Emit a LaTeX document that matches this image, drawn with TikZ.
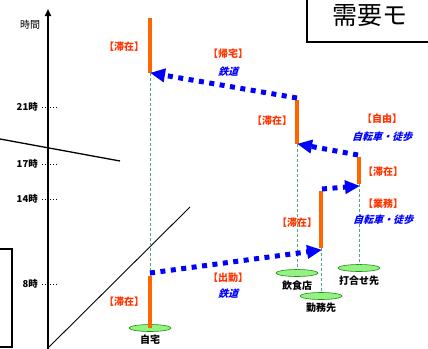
\documentclass[tikz,border=0pt]{standalone}
\usepackage{fontspec}
\setmainfont{Noto Sans CJK JP}
\newfontfamily\jpbold{Noto Sans CJK JP Black}
\newfontfamily\jpbsl[FakeSlant=0.3]{Noto Sans CJK JP Black}
\usetikzlibrary{arrows.meta,shapes.geometric}
\definecolor{stayc}{RGB}{255,102,0}
\definecolor{labc}{RGB}{255,51,0}
\definecolor{movec}{RGB}{0,0,255}
\definecolor{guidec}{RGB}{80,165,125}
\definecolor{ellf}{RGB}{150,240,130}
\definecolor{elld}{RGB}{20,150,20}
\tikzset{
  staybar/.style={stayc, line width=4pt},
  guide/.style={guidec, dash pattern=on 3pt off 2pt, line width=0.8pt},
  move/.style={movec, line width=5pt, dash pattern=on 5pt off 5.5pt, -{Triangle[length=15pt,width=13pt]}, shorten >=-1pt},
  place/.style={ellipse, draw=elld, fill=ellf, line width=0.6pt, minimum width=42pt, minimum height=7pt, inner sep=0pt},
  placelab/.style={font=\fontsize{10}{12}\selectfont\jpbold, black},
  actlab/.style={font=\fontsize{10}{12}\selectfont\jpbold, labc, inner sep=0pt},
  modelab/.style={font=\fontsize{10}{12}\selectfont\jpbsl, movec, inner sep=0pt},
  ticklab/.style={font=\fontsize{9.5}{11}\selectfont\jpbold, anchor=east, inner sep=0pt},
  tick/.style={dotted, line width=0.8pt},
}
\begin{document}
\begin{tikzpicture}[x=1pt,y=-1pt]
\useasboundingbox (0,0) rectangle (428,348);
% background lines
\draw[line width=1.3pt] (0,139) -- (120,161);
\draw[line width=0.9pt] (48,348) -- (190,207);
\draw[line width=1.2pt] (-5,249) -- (12,249) -- (12,347) -- (-5,347);
\draw[line width=1.2pt] (307,-5) -- (307,42) -- (433,42);
\node[anchor=west, font=\fontsize{25}{28}\selectfont, inner sep=0pt] (title) at (332,16) {需要モ};
% time axis
\coordinate (axb) at (48,350);
\coordinate (axt) at (48,9);
\draw[line width=2pt, -{Triangle[length=7pt,width=6pt]}] (axb) -- (axt);
\node[font=\fontsize{10}{12}\selectfont, inner sep=0pt] (timelab) at (30,25) {時間};
\node[ticklab] (t21) at (38,107) {21時};
\node[ticklab] (t17) at (38,164) {17時};
\node[ticklab] (t14) at (38,199) {14時};
\node[ticklab] (t8) at (38,284) {8時};
\foreach \n/\y in {t21/107,t17/164,t14/199,t8/284}{
  \coordinate (\n a) at (42,\y); \coordinate (\n b) at (58,\y);
  \draw[tick] (\n a) -- (\n b);
}
% places
\node[place] (home) at (150,328) {};
\node[place] (rest) at (297,273) {};
\node[place] (work) at (321,296) {};
\node[place] (meet) at (359,268) {};
\node[placelab] (homelab) at (150,340) {自宅};
\node[placelab] (restlab) at (297,286) {飲食店};
\node[placelab] (worklab) at (321,308) {勤務先};
\node[placelab] (meetlab) at (359,281) {打合せ先};
% stay bar end points
\coordinate (h1t) at (150,276); \coordinate (h1b) at (150,328);
\coordinate (h2t) at (150,18);  \coordinate (h2b) at (150,73);
\coordinate (rt) at (297,100);  \coordinate (rb) at (297,144);
\coordinate (wt) at (321,191);  \coordinate (wb) at (321,248);
\coordinate (mt) at (359,157);  \coordinate (mb) at (359,184);
% guides
\draw[guide] (h2b) -- (h1t);
\draw[guide] (rb) -- (rest.north);
\draw[guide] (wb) -- (work.north);
\draw[guide] (mb) -- (meet.north);
% stay bars
\draw[staybar] (h1t) -- (h1b);
\draw[staybar] (h2t) -- (h2b);
\draw[staybar] (rt) -- (rb);
\draw[staybar] (wt) -- (wb);
\draw[staybar] (mt) -- (mb);
% moves
\coordinate (m1s) at (150,273); \coordinate (m1e) at (321,250);
\coordinate (m2s) at (322,189); \coordinate (m2e) at (359,186);
\coordinate (m3s) at (358,155); \coordinate (m3e) at (298,144);
\coordinate (m4s) at (297,98);  \coordinate (m4e) at (151,73);
\draw[move] (m1s) -- (m1e);
\draw[move] (m2s) -- (m2e);
\draw[move] (m3s) -- (m3e);
\draw[move] (m4s) -- (m4e);
% labels
\node[actlab] (s1) at (124,302) {【滞在】};
\node[actlab] (s2) at (124,47) {【滞在】};
\node[actlab] (s3) at (272,121) {【滞在】};
\node[actlab] (s4) at (297,223) {【滞在】};
\node[actlab] (s5) at (383,172) {【滞在】};
\node[actlab] (a1) at (228,278) {【出勤】};
\node[modelab] (a1m) at (228,294) {鉄道};
\node[actlab] (a2) at (383,204) {【業務】};
\node[modelab] (a2m) at (383,220) {自転車・徒歩};
\node[actlab] (a3) at (382,119) {【自由】};
\node[modelab] (a3m) at (382,137) {自転車・徒歩};
\node[actlab] (a4) at (228,54) {【帰宅】};
\node[modelab] (a4m) at (228,72) {鉄道};
\end{tikzpicture}
\end{document}
